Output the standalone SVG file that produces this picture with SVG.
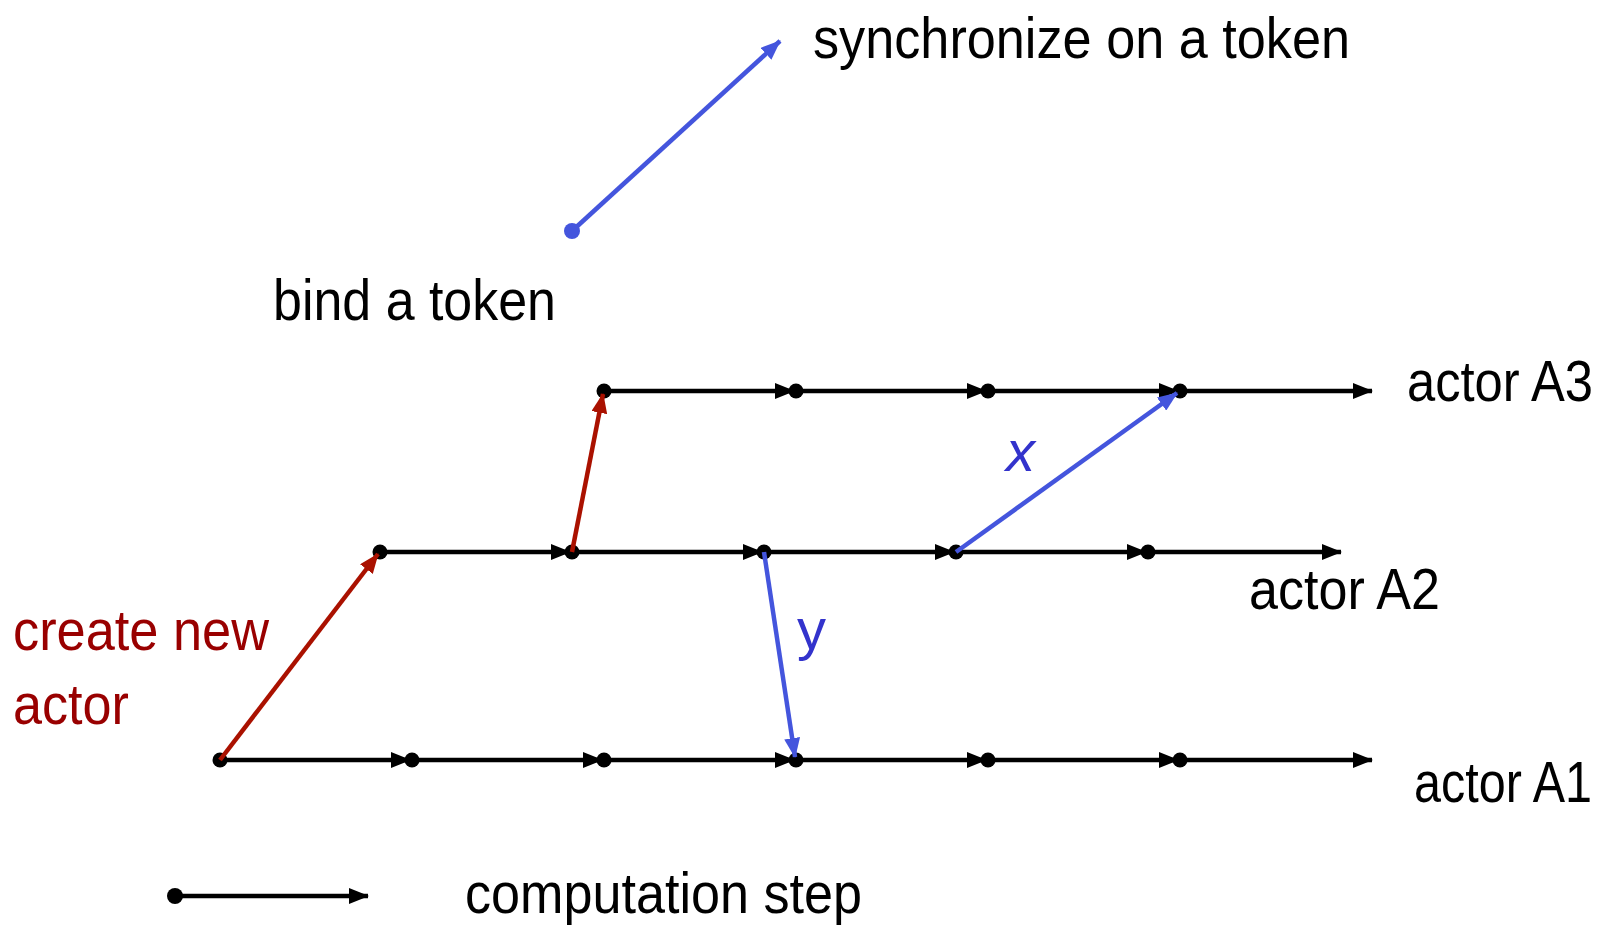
<svg xmlns="http://www.w3.org/2000/svg" width="1617" height="926" viewBox="0 0 1617 926">
<defs>
<style>
.step{stroke:#000;stroke-width:4.5;fill:none;marker-end:url(#ah)}
.dot{fill:#000}
.red{stroke:#aa1100;stroke-width:4.5;fill:none;marker-end:url(#ahr)}
.blue{stroke:#4455dd;stroke-width:4.5;fill:none;marker-end:url(#ahb)}
.t{font-family:"Liberation Sans",Arial,sans-serif;font-size:58px;fill:#000}
.tr{fill:#990000}
.tb{fill:#3333cc}
</style>
<marker id="ah" viewBox="0 0 20 16" refX="19" refY="8" markerWidth="20" markerHeight="16" markerUnits="userSpaceOnUse" orient="auto"><path d="M0,0 L20,8 L0,16 Z" fill="#000"/></marker>
<marker id="ahr" viewBox="0 0 20 16" refX="19" refY="8" markerWidth="20" markerHeight="16" markerUnits="userSpaceOnUse" orient="auto"><path d="M0,0 L20,8 L0,16 Z" fill="#aa1100"/></marker>
<marker id="ahb" viewBox="0 0 20 16" refX="19" refY="8" markerWidth="20" markerHeight="16" markerUnits="userSpaceOnUse" orient="auto"><path d="M0,0 L20,8 L0,16 Z" fill="#4455dd"/></marker>
</defs>
<rect width="1617" height="926" fill="#fff"/>

<g id="legend-token">
<path class="blue" d="M572,231 L780,41"/>
<circle cx="572" cy="231" r="8" fill="#4455dd"/>
<text class="t" x="813" y="58" textLength="537" lengthAdjust="spacingAndGlyphs">synchronize on a token</text>
<text class="t" x="273" y="320" textLength="283" lengthAdjust="spacingAndGlyphs">bind a token</text>
</g>

<g id="actor-A3">
<line class="step" x1="604" y1="391" x2="794" y2="391"/>
<line class="step" x1="796" y1="391" x2="986" y2="391"/>
<line class="step" x1="988" y1="391" x2="1178" y2="391"/>
<line class="step" x1="1180" y1="391" x2="1372" y2="391"/>
<circle class="dot" cx="604" cy="391" r="7.5"/>
<circle class="dot" cx="796" cy="391" r="7.5"/>
<circle class="dot" cx="988" cy="391" r="7.5"/>
<circle class="dot" cx="1180" cy="391" r="7.5"/>
<text class="t" x="1407" y="401" textLength="186" lengthAdjust="spacingAndGlyphs">actor A3</text>
</g>

<g id="actor-A2">
<line class="step" x1="380" y1="552" x2="570" y2="552"/>
<line class="step" x1="572" y1="552" x2="762" y2="552"/>
<line class="step" x1="764" y1="552" x2="954" y2="552"/>
<line class="step" x1="956" y1="552" x2="1146" y2="552"/>
<line class="step" x1="1148" y1="552" x2="1341" y2="552"/>
<circle class="dot" cx="380" cy="552" r="7.5"/>
<circle class="dot" cx="572" cy="552" r="7.5"/>
<circle class="dot" cx="764" cy="552" r="7.5"/>
<circle class="dot" cx="956" cy="552" r="7.5"/>
<circle class="dot" cx="1148" cy="552" r="7.5"/>
<text class="t" x="1249" y="609" textLength="191" lengthAdjust="spacingAndGlyphs">actor A2</text>
</g>

<g id="actor-A1">
<line class="step" x1="220" y1="760" x2="410" y2="760"/>
<line class="step" x1="412" y1="760" x2="602" y2="760"/>
<line class="step" x1="604" y1="760" x2="794" y2="760"/>
<line class="step" x1="796" y1="760" x2="986" y2="760"/>
<line class="step" x1="988" y1="760" x2="1178" y2="760"/>
<line class="step" x1="1180" y1="760" x2="1372" y2="760"/>
<circle class="dot" cx="220" cy="760" r="7.5"/>
<circle class="dot" cx="412" cy="760" r="7.5"/>
<circle class="dot" cx="604" cy="760" r="7.5"/>
<circle class="dot" cx="796" cy="760" r="7.5"/>
<circle class="dot" cx="988" cy="760" r="7.5"/>
<circle class="dot" cx="1180" cy="760" r="7.5"/>
<text class="t" x="1414" y="802" textLength="178" lengthAdjust="spacingAndGlyphs">actor A1</text>
</g>

<g id="connectors">
<path class="red" d="M220,760 L378,554"/>
<path class="red" d="M572,552 L603,394"/>
<path class="blue" d="M764,552 L795,757"/>
<path class="blue" d="M956,552 L1177,393"/>
</g>

<g id="labels">
<text class="t tr" x="13" y="650" textLength="256" lengthAdjust="spacingAndGlyphs">create new</text>
<text class="t tr" x="13" y="724" textLength="116" lengthAdjust="spacingAndGlyphs">actor</text>
<text class="t tb" x="1006" y="471" font-style="italic">x</text>
<text class="t tb" x="797" y="649">y</text>
</g>

<g id="legend-step">
<line class="step" x1="175" y1="896" x2="368" y2="896"/>
<circle class="dot" cx="175" cy="896" r="8"/>
<text class="t" x="465" y="913" textLength="397" lengthAdjust="spacingAndGlyphs">computation step</text>
</g>
</svg>
